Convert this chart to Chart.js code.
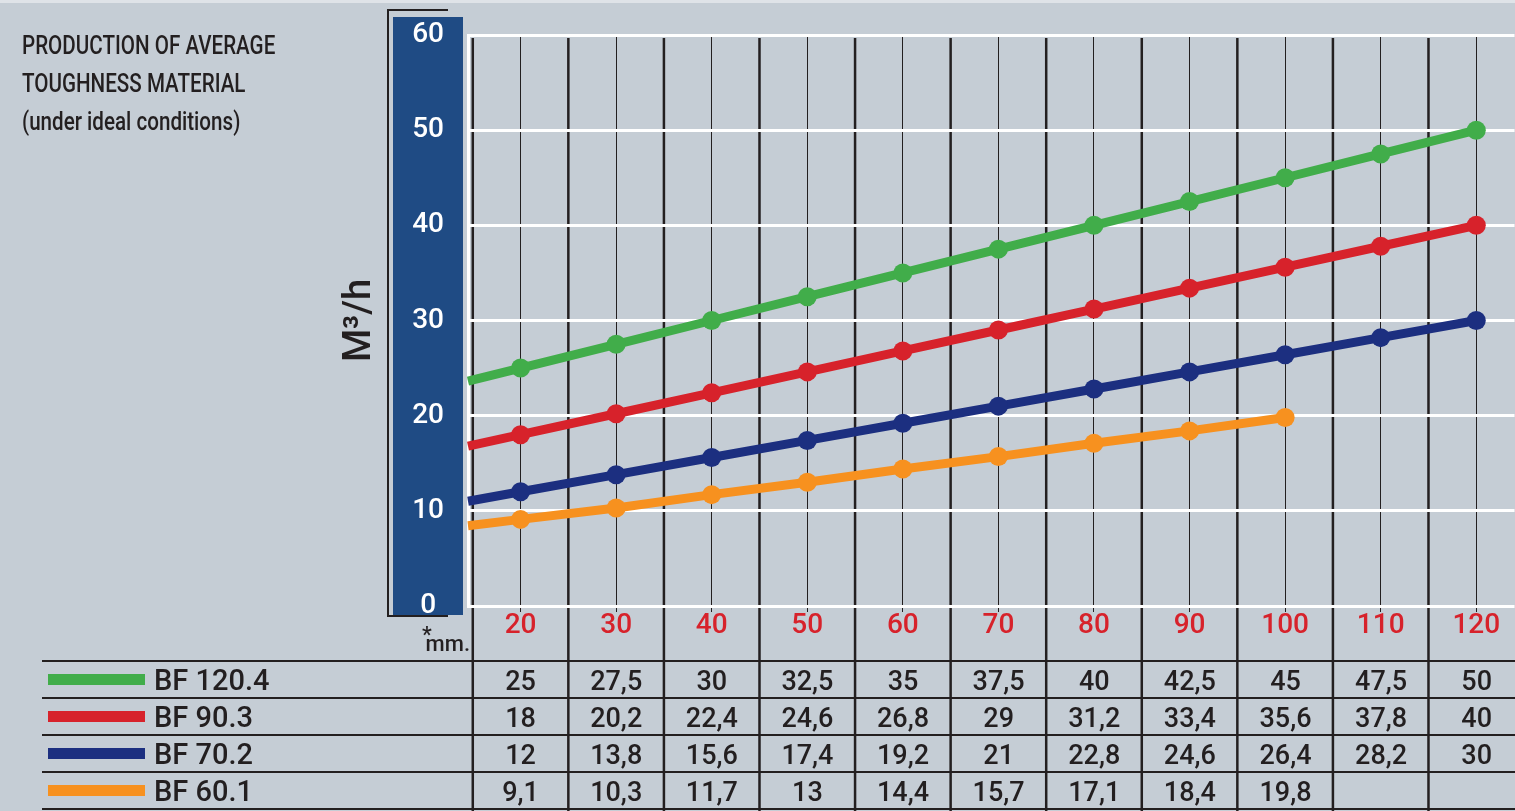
<!DOCTYPE html>
<html lang="en">
  <head>
    <meta charset="UTF-8" />
    <title>Production of average toughness material</title>
    <script src="https://cdn.jsdelivr.net/npm/chart.js"></script>
    <style>
      html,
      body {
        margin: 0;
        padding: 0;
        overflow: hidden;
      }
      body {
        width: 1515px;
        height: 811px;
        background: #c5cdd5;
        position: relative;
        color: #231f20;
      }
      .topstrip {
        position: absolute;
        left: 0;
        top: 0;
        width: 1515px;
        height: 3px;
        background: #dfe3e8;
      }
      #chart {
        position: absolute;
        left: 0;
        top: 0;
      }
      .heading {
        position: absolute;
        left: 22px;
        top: 27px;
        font-family: Roboto, sans-serif;
        font-weight: 500;
        font-size: 25px;
        line-height: 38px;
        white-space: nowrap;
        transform-origin: left top;
      }
      .unit {
        position: absolute;
        left: 420px;
        top: 629px;
        width: 50px;
        text-align: right;
        font-family: Roboto, sans-serif;
        font-weight: 500;
        font-size: 22px;
        line-height: 30px;
      }
      .unit .ast {
        position: absolute;
        left: 2px;
        top: -9px;
        font-size: 22px;
      }
      #table {
        position: absolute;
        left: 42px;
        top: 660px;
        width: 1490px;
      }
      .row {
        display: flex;
        height: 37px;
        box-sizing: border-box;
        border-top: 2px solid #231f20;
      }
      .row:last-child {
        border-bottom: 2px solid #231f20;
        height: 39px;
      }
      .name {
        flex: 0 0 430.8px;
        display: flex;
        align-items: center;
        font-family: Roboto, sans-serif;
        font-weight: 500;
        font-size: 29px;
      }
      .swatch {
        width: 97px;
        height: 11px;
        margin: 0 9px 0 6px;
      }
      .cell {
        flex: 0 0 95.62px;
        text-align: center;
        font-family: Roboto, sans-serif;
        font-weight: 500;
        font-size: 27px;
        line-height: 38px;
      }
    </style>
  </head>
  <body>
    <div class="topstrip"></div>
    <canvas id="chart" width="1524" height="811"></canvas>
    <div class="heading" id="heading">
      PRODUCTION OF AVERAGE<br />TOUGHNESS MATERIAL<br />(under ideal conditions)
    </div>
    <div class="unit"><span class="ast">*</span>mm.</div>
    <div id="table"></div>
    <script>
      // mm (x axis)
      const sizes = [20, 30, 40, 50, 60, 70, 80, 90, 100, 110, 120]
      const yTicks = [0, 10, 20, 30, 40, 50, 60]

      // M3/h per model
      const names = ['BF 120.4', 'BF 90.3', 'BF 70.2', 'BF 60.1']
      const bf1204 = [25, 27.5, 30, 32.5, 35, 37.5, 40, 42.5, 45, 47.5, 50]
      const bf903 = [18, 20.2, 22.4, 24.6, 26.8, 29, 31.2, 33.4, 35.6, 37.8, 40]
      const bf702 = [12, 13.8, 15.6, 17.4, 19.2, 21, 22.8, 24.6, 26.4, 28.2, 30]
      const bf601 = [9.1, 10.3, 11.7, 13, 14.4, 15.7, 17.1, 18.4, 19.8, null, null]
      const colors = ['#41ad4a', '#d7222b', '#1c2f80', '#f7911f']

      const seriesValues = [bf1204, bf903, bf702, bf601]
      const columnEdges = sizes.map((s) => s - 5)

      // titolo stretto come l'originale
      const heading = document.getElementById('heading')
      heading.style.transform = `scaleX(${253 / heading.scrollWidth})`

      // tabella sotto il grafico
      const table = document.getElementById('table')
      names.forEach((name, i) => {
        const row = document.createElement('div')
        row.className = 'row'
        let html = `<div class="name"><span class="swatch" style="background:${colors[i]}"></span>${name}</div>`
        seriesValues[i].forEach((v) => {
          const txt = v === null ? '' : String(v).replace('.', ',')
          html += `<div class="cell">${txt}</div>`
        })
        row.innerHTML = html
        table.appendChild(row)
      })

      // fondo: banda blu, parentesi e divisori spessi
      const backdrop = {
        id: 'backdrop',
        beforeDraw(chart) {
          const { ctx, chartArea: a, scales } = chart
          const x = scales.x
          const y = scales.y
          const bandRight = a.left - 5
          const bandLeft = bandRight - 70
          const bandTop = y.getPixelForValue(60) - 18
          const bandBottom = y.getPixelForValue(0) + 9
          ctx.save()
          ctx.fillStyle = '#1f4b84'
          ctx.fillRect(bandLeft, bandTop, bandRight - bandLeft, bandBottom - bandTop)
          ctx.strokeStyle = '#231f20'
          ctx.lineWidth = 2
          ctx.beginPath()
          ctx.moveTo(bandLeft + 55, bandTop - 7)
          ctx.lineTo(bandLeft - 5, bandTop - 7)
          ctx.lineTo(bandLeft - 5, bandBottom + 1)
          ctx.lineTo(bandLeft + 55, bandBottom + 1)
          ctx.stroke()
          ctx.lineWidth = 2.5
          columnEdges.forEach((e) => {
            const px = x.getPixelForValue(e)
            ctx.beginPath()
            ctx.moveTo(px, a.top + 3)
            ctx.lineTo(px, chart.height)
            ctx.stroke()
          })
          ctx.restore()
        },
      }

      // prolunga il primo tratto fino al bordo sinistro
      const leadIn = {
        id: 'leadIn',
        beforeDatasetsDraw(chart) {
          const { ctx, chartArea: a } = chart
          chart.data.datasets.forEach((ds, i) => {
            const pts = chart.getDatasetMeta(i).data
            const p0 = pts[0]
            const p1 = pts[1]
            const slope = (p1.y - p0.y) / (p1.x - p0.x)
            ctx.save()
            ctx.strokeStyle = ds.borderColor
            ctx.lineWidth = ds.borderWidth
            ctx.beginPath()
            ctx.moveTo(a.left, p0.y - slope * (p0.x - a.left))
            ctx.lineTo(p0.x, p0.y)
            ctx.stroke()
            ctx.restore()
          })
        },
      }

      const datasets = seriesValues.map((vals, i) => ({
        label: names[i],
        data: sizes
          .map((s, j) => ({ x: s, y: vals[j] }))
          .filter((p) => p.y !== null),
        borderColor: colors[i],
        backgroundColor: colors[i],
        pointBackgroundColor: colors[i],
        borderWidth: 9,
        pointRadius: 9.5,
        pointBorderWidth: 0,
        tension: 0,
      }))

      const tickFont = { family: 'Roboto', size: 28, weight: '500' }

      new Chart(document.getElementById('chart'), {
        type: 'line',
        data: { datasets },
        options: {
          responsive: false,
          animation: false,
          layout: { padding: { left: 338, top: 35, right: 0, bottom: 0 } },
          plugins: {
            legend: { display: false },
            tooltip: { enabled: false },
          },
          scales: {
            x: {
              type: 'linear',
              min: 14.5,
              max: 124,
              z: -2,
              afterBuildTicks: (s) => {
                s.ticks = sizes.map((v) => ({ value: v }))
              },
              afterFit: (s) => {
                s.height = 205
                s.paddingLeft = 0
                s.paddingRight = 0
              },
              grid: { color: '#231f20', lineWidth: 1, tickLength: 6 },
              border: { display: false },
              ticks: {
                color: '#d7222b',
                font: tickFont,
                padding: -3,
                autoSkip: false,
                maxRotation: 0,
              },
            },
            y: {
              min: 0,
              max: 60,
              z: -1,
              afterBuildTicks: (s) => {
                s.ticks = yTicks.map((v) => ({ value: v }))
              },
              afterFit: (s) => {
                s.width = 130
                s.paddingTop = 0
                s.paddingBottom = 0
              },
              grid: { color: '#ffffff', lineWidth: 3, drawTicks: false },
              border: { color: '#ffffff', width: 3 },
              ticks: {
                color: '#ffffff',
                font: tickFont,
                crossAlign: 'center',
                padding: 24,
              },
              title: {
                display: true,
                text: 'M³/h',
                color: '#231f20',
                font: { family: 'Roboto', size: 38, weight: '500' },
                padding: 0,
              },
            },
          },
        },
        plugins: [backdrop, leadIn],
      })
    </script>
  </body>
</html>
